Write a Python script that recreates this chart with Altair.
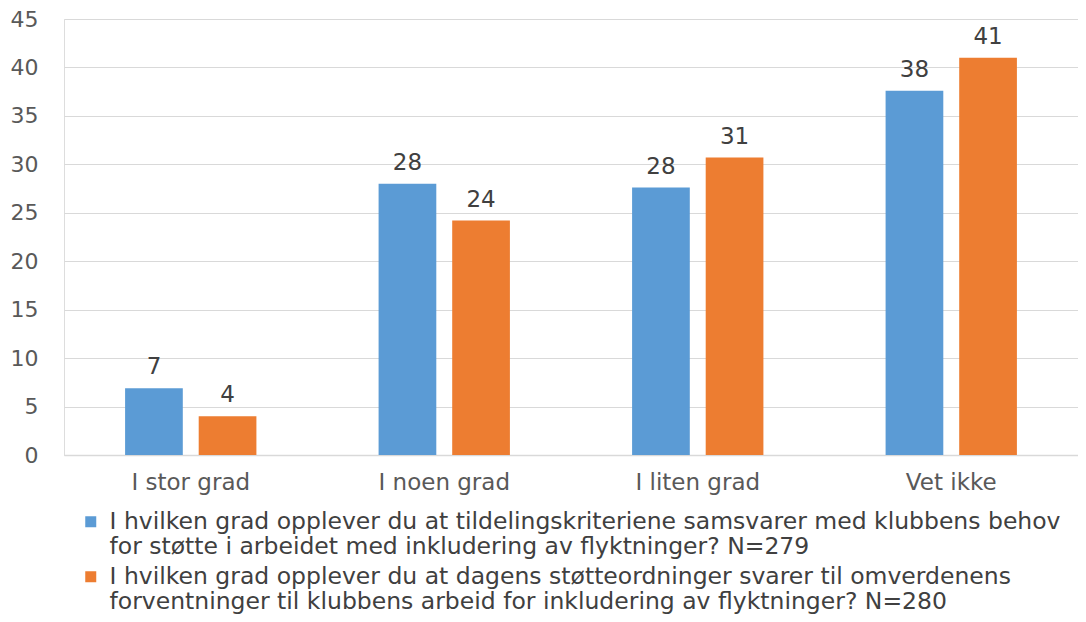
import altair as alt
import pandas as pd

categories = ["I stor grad", "I noen grad", "I liten grad", "Vet ikke"]
series_names = [
    "I hvilken grad opplever du at tildelingskriteriene samsvarer med klubbens behov|for støtte i arbeidet med inkludering av flyktninger? N=279",
    "I hvilken grad opplever du at dagens støtteordninger svarer til omverdenens|forventninger til klubbens arbeid for inkludering av flyktninger? N=280",
]
values_s1 = [6.9, 28.0, 27.6, 37.6]
values_s2 = [4.0, 24.2, 30.7, 41.0]
colors = ["#5B9BD5", "#ED7D31"]

rows = []
for c, v in zip(categories, values_s1):
    rows.append({"kategori": c, "serie": series_names[0], "verdi": v})
for c, v in zip(categories, values_s2):
    rows.append({"kategori": c, "serie": series_names[1], "verdi": v})
df = pd.DataFrame(rows)

FONT = "DejaVu Sans"

x = alt.X("kategori:N", sort=categories, title=None,
          scale=alt.Scale(paddingInner=0, paddingOuter=0),
          axis=alt.Axis(labelAngle=0, labelFontSize=23, labelColor="#595959",
                        labelFont=FONT, ticks=False, domainColor="#D9D9D9",
                        domainWidth=1.5, labelPadding=16, grid=False))
xoff = alt.XOffset("serie:N", sort=series_names,
                   scale=alt.Scale(paddingInner=0.216, paddingOuter=0.83))
y = alt.Y("verdi:Q", title=None,
          scale=alt.Scale(domain=[0, 45], nice=False),
          axis=alt.Axis(values=list(range(0, 50, 5)), labelFontSize=22,
                        labelColor="#595959", labelFont=FONT, ticks=False,
                        domain=False, gridColor="#D9D9D9", gridWidth=1.2,
                        labelPadding=26))
color = alt.Color("serie:N", sort=series_names,
                  scale=alt.Scale(domain=series_names, range=colors),
                  legend=alt.Legend(title=None, orient="none", legendX=15, legendY=491,
                                    direction="vertical", symbolType="square",
                                    symbolSize=121, symbolStrokeWidth=0,
                                    labelFontSize=23.5, labelFont=FONT,
                                    labelColor="#404040", labelLimit=2000,
                                    labelExpr="split(datum.label, '|')",
                                    rowPadding=5, symbolOffset=0, labelOffset=7))

bars = alt.Chart(df).mark_bar().encode(x=x, xOffset=xoff, y=y, color=color)
labels = alt.Chart(df).mark_text(dy=-9, baseline="bottom", fontSize=23,
                                 font=FONT, color="#404040").encode(
    x=x, xOffset=xoff, y=y,
    text=alt.Text("verdi:Q", format=".0f"))

chart = (bars + labels).properties(
    width=1014, height=436,
    autosize=alt.AutoSizeParams(type="none"),
    padding={"left": 56, "top": 11, "right": 0, "bottom": 159},
).configure_view(stroke=None).configure(background="white")

chart.save("out.html", embed_options={"renderer": "svg", "actions": False})
